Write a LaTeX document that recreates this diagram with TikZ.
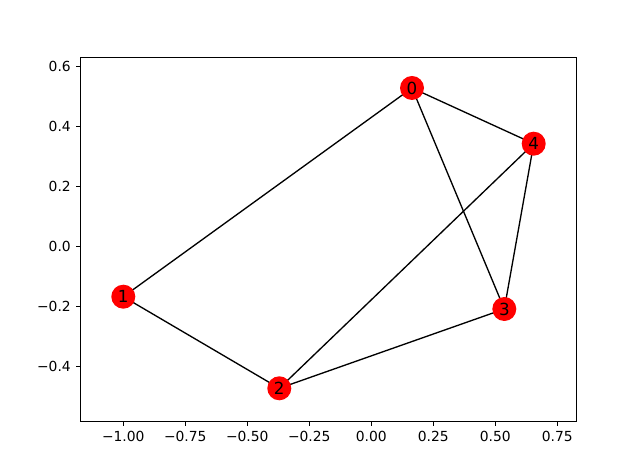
\documentclass[tikz,border=0pt]{standalone}
\usepackage{fontspec}
\setmainfont{DejaVu Sans}
\pgfdeclarelayer{edgelayer}
\pgfsetlayers{edgelayer,main}
\begin{document}
\begin{tikzpicture}[x=0.75pt,y=-0.75pt,
  gnode/.style={circle,fill=red,draw=none,inner sep=0pt,minimum size=18pt,font=\fontsize{12.5}{14}\selectfont},
  gedge/.style={line width=1pt,black},
  spine/.style={line width=0.6pt,black},
  tickmark/.style={line width=0.6pt,black},
  ticklab/.style={font=\fontsize{10.4}{12}\selectfont,inner sep=0pt}]
\useasboundingbox (0,0) rectangle (640,473);
\begin{pgfonlayer}{edgelayer}
\fill[white] (0,0) rectangle (640,473);
\end{pgfonlayer}
% axes frame
\draw[spine] (80.7,57.3) rectangle (576.7,421.3);
% x ticks
\foreach \v/\l in {-1.00/−1.00,-0.75/−0.75,-0.50/−0.50,-0.25/−0.25,0.00/0.00,0.25/0.25,0.50/0.50,0.75/0.75}{
  \pgfmathsetmacro{\px}{371.3+248*\v}
  \draw[tickmark] (\px,421.3) -- (\px,426.2);
  \node[ticklab,anchor=north] at (\px,431) {\l};
}
% y ticks
\foreach \v/\l in {0.6/0.6,0.4/0.4,0.2/0.2,0.0/0.0,-0.2/−0.2,-0.4/−0.4}{
  \pgfmathsetmacro{\py}{246-300*\v}
  \draw[tickmark] (80.7,\py) -- (75.8,\py);
  \node[ticklab,anchor=east] at (71,\py) {\l};
}
% nodes
\node[gnode] (n0) at (412,88) {0};
\node[gnode] (n1) at (123.3,296.7) {1};
\node[gnode] (n2) at (279.3,388.3) {2};
\node[gnode] (n3) at (504.3,309) {3};
\node[gnode] (n4) at (533.7,143.7) {4};
% edges (beneath nodes)
\begin{pgfonlayer}{edgelayer}
\foreach \a/\b in {n0/n1,n0/n4,n0/n3,n4/n2,n4/n3,n1/n2,n2/n3}{
  \draw[gedge] (\a.center) -- (\b.center);
}
\end{pgfonlayer}
\end{tikzpicture}
\end{document}
